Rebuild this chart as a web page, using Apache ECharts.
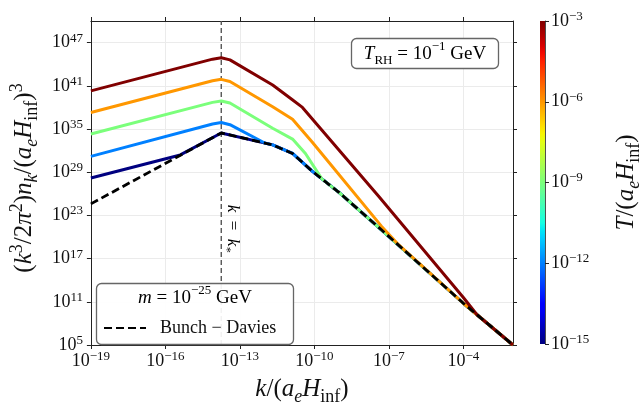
<!DOCTYPE html>
<html><head><meta charset="utf-8">
<script src="https://cdn.jsdelivr.net/npm/echarts@6/dist/echarts.min.js"></script>
<style>html,body{margin:0;padding:0;background:#fff}#c{width:644px;height:411px}</style>
</head><body><div id="c"></div>
<script>
// ---------------- data ----------------
const kTicks = [1e-19, 1e-16, 1e-13, 1e-10, 1e-7, 1e-4];
const yTicks = [1e5, 1e11, 1e17, 1e23, 1e29, 1e35, 1e41, 1e47];
const kRange = [1e-19, 1e-2];
const yRange = [1e5, 1e50];
const cbarExpRange = [-15, -3];          // colorbar: exponent of T/(a_e H_inf)
const kStar = 1.78e-14;
const kStarLabelY = 1.5e21;

// Bunch-Davies spectrum [k, value]
const bunchDavies = [[1e-19,4.0e24],[1.78e-14,2.8e34],[2.09e-12,6.3e32],[1.32e-11,4.0e31],[8.13e-11,1.41e29],[9.77e-10,1.58e26],[5.01e-8,1.0e21],[1e-4,6.3e10],[1e-2,1.0e5]];
// curves for each temperature, until they merge with Bunch-Davies
const temps = [1e-15, 1e-12, 1e-9, 1e-6, 1e-3];
const curveT15 = [[1e-19,1.58e28],[3.98e-16,2.5e31]];
const curveT12 = [[1e-19,1.58e31],[7.94e-15,5.0e35],[1.78e-14,7.9e35],[3.98e-14,3.98e35],[1e-12,1.12e33]];
const curveT9  = [[1e-19,2.0e34],[7.94e-15,5.0e38],[1.78e-14,7.9e38],[3.98e-14,3.98e38],[2.09e-12,1.26e35],[1.32e-11,3.98e33],[4.37e-11,3.98e31],[2.0e-10,1.2e28]];
const curveT6  = [[1e-19,2.0e37],[7.94e-15,5.0e41],[1.78e-14,7.9e41],[3.98e-14,3.98e41],[2.09e-12,1.26e38],[1.32e-11,2.24e36],[8.13e-11,1.58e33],[5.01e-8,3.2e21],[2.51e-7,7.9e18]];
const curveT3  = [[1e-19,2.0e40],[7.94e-15,5.0e44],[1.78e-14,7.9e44],[3.98e-14,3.98e44],[2.09e-12,1.26e41],[1.26e-11,1.26e39],[3.31e-11,1.0e38],[3.8e-8,5.0e25],[1e-4,4.0e11],[3.55e-4,1.58e9]];
const curves = [curveT15, curveT12, curveT9, curveT6, curveT3];

// ---------------- helpers ----------------
const F = '"Liberation Serif", "DejaVu Serif", serif';
const INK = '#111';
function interp(pts, t){
  for (let i = 1; i < pts.length; i++) {
    if (t <= pts[i][0]) { const [x0,y0] = pts[i-1], [x1,y1] = pts[i]; return y0 + (y1-y0)*(t-x0)/(x1-x0); }
  }
  return pts[pts.length-1][1];
}
const JR = [[0,0],[0.35,0],[0.66,1],[0.89,1],[1,0.5]];
const JG = [[0,0],[0.125,0],[0.375,1],[0.64,1],[0.91,0],[1,0]];
const JB = [[0,0.5],[0.11,1],[0.34,1],[0.65,0],[1,0]];
function jet(t){
  t = Math.max(0, Math.min(1, t));
  return 'rgb(' + Math.round(255*interp(JR,t)) + ',' + Math.round(255*interp(JG,t)) + ',' + Math.round(255*interp(JB,t)) + ')';
}
const tNorm = T => (Math.log10(T) - cbarExpRange[0]) / (cbarExpRange[1] - cbarExpRange[0]);
function withTail(own){
  const lastK = own[own.length-1][0];
  return own.concat(bunchDavies.filter(p => p[0] > lastK * 1.001));
}
const tickRich = {
  b: {fontFamily: F, fontSize: 18, lineHeight: 22, color: INK},
  s: {fontFamily: F, fontSize: 13, lineHeight: 13, verticalAlign: 'top', color: INK}
};
function pow10Label(e){ return '{b|10}{s|' + (e < 0 ? '\u2212' + (-e) : e) + '}'; }
const logFmt = v => pow10Label(Math.round(Math.log10(v)));
function mathRich(size, color){
  const s = Math.round(size * 0.7);
  return {
    n:  {fontFamily: F, fontSize: size, lineHeight: size + 8, color: color},
    i:  {fontFamily: F, fontSize: size, fontStyle: 'italic', lineHeight: size + 8, color: color},
    sp: {fontFamily: F, fontSize: s, lineHeight: s, verticalAlign: 'top', color: color},
    sb: {fontFamily: F, fontSize: s, lineHeight: s, verticalAlign: 'bottom', fontStyle: 'italic', color: color},
    sr: {fontFamily: F, fontSize: s, lineHeight: s, verticalAlign: 'bottom', color: color}
  };
}

// ---------------- series ----------------
const series = [];
curves.forEach((c, idx) => {
  series.push({
    type: 'line', name: 'T' + idx, xAxisIndex: 0, yAxisIndex: 0,
    data: withTail(c), showSymbol: false, symbol: 'none', smooth: false,
    lineStyle: {color: jet(tNorm(temps[idx])), width: 3}, itemStyle: {color: jet(tNorm(temps[idx]))},
    silent: true, z: 2
  });
});
// vertical k = k_* line
series.push({
  type: 'line', name: 'kstar', xAxisIndex: 0, yAxisIndex: 0,
  data: [[kStar, yRange[0]], [kStar, yRange[1]]], showSymbol: false, symbol: 'none',
  lineStyle: {color: '#555', width: 1.4, type: [5, 3]}, silent: true, z: 1
});
series.push({
  type: 'line', name: 'Bunch \u2212 Davies', xAxisIndex: 0, yAxisIndex: 0,
  data: bunchDavies, showSymbol: false, symbol: 'none',
  lineStyle: {color: '#000', width: 2.8, type: [8, 4]}, itemStyle: {color: '#000'},
  silent: true, z: 3
});
// colorbar
const cbStops = [];
for (let i = 0; i <= 40; i++) { const o = i / 40; cbStops.push({offset: o, color: jet(1 - o)}); }
series.push({
  type: 'bar', xAxisIndex: 2, yAxisIndex: 2, data: [cbarExpRange[1] - cbarExpRange[0]],
  barWidth: '100%', silent: true,
  itemStyle: {color: new echarts.graphic.LinearGradient(0, 0, 0, 1, cbStops)}
});

const mainX = {
  type: 'log', gridIndex: 0, min: kRange[0], max: kRange[1],
  axisLine: {show: true, onZero: false, lineStyle: {color: '#222', width: 1}},
  axisTick: {show: true, customValues: kTicks, length: 4, lineStyle: {color: '#222', width: 1}},
  minorTick: {show: false}, minorSplitLine: {show: false},
  splitLine: {show: true, lineStyle: {color: '#ebebeb', width: 1}}
};
const mainY = {
  type: 'log', gridIndex: 0, min: yRange[0], max: yRange[1],
  axisLine: {show: true, onZero: false, lineStyle: {color: '#222', width: 1}},
  axisTick: {show: true, customValues: yTicks, length: 4, lineStyle: {color: '#222', width: 1}},
  minorTick: {show: false}, minorSplitLine: {show: false},
  splitLine: {show: true, lineStyle: {color: '#ebebeb', width: 1}}
};

const option = {
  animation: false,
  backgroundColor: '#fff',
  grid: [
    {left: 86, top: 21, width: 427, height: 332},
    {left: 540, top: 21, width: 19, height: 323}
  ],
  xAxis: [
    Object.assign({}, mainX, {
      position: 'bottom',
      axisLabel: {show: true, customValues: kTicks, formatter: logFmt, rich: tickRich, margin: 5},
      name: '{i|k}{n|/(}{i|a}{sb|e}{i|H}{sr|inf}{n|)}',
      nameLocation: 'middle', nameGap: 28,
      nameTextStyle: {rich: mathRich(25, INK)}
    }),
    Object.assign({}, mainX, {position: 'top', axisLabel: {show: false}, splitLine: {show: false}}),
    {type: 'category', gridIndex: 1, data: ['cb'], show: false}
  ],
  yAxis: [
    Object.assign({}, mainY, {
      position: 'left',
      axisLabel: {show: true, customValues: yTicks, formatter: logFmt, rich: tickRich, margin: 8},
      name: '{n|(}{i|k}{sp|3}{n|/2}{i|\u03c0}{sp|2}{n|)}{i|n}{sb|k}{n|/(}{i|a}{sb|e}{i|H}{sr|inf}{n|)}{sp|3}',
      nameLocation: 'middle', nameRotate: 90, nameGap: 42,
      nameTextStyle: {rich: mathRich(25, INK), padding: [0, 0, 0, 10]}
    }),
    Object.assign({}, mainY, {position: 'right', axisLabel: {show: false}, splitLine: {show: false}}),
    {
      type: 'value', gridIndex: 1, position: 'right', min: 0, max: cbarExpRange[1] - cbarExpRange[0], interval: 3,
      axisLine: {show: true, lineStyle: {color: '#222', width: 0.8}},
      axisTick: {show: true, length: 4, lineStyle: {color: '#222'}},
      splitLine: {show: false},
      axisLabel: {formatter: v => pow10Label(v + cbarExpRange[0]), rich: tickRich, margin: 6},
      name: '{i|T}{n|/(}{i|a}{sb|e}{i|H}{sr|inf}{n|)}',
      nameLocation: 'middle', nameRotate: 90, nameGap: 65,
      nameTextStyle: {rich: mathRich(25, INK)}
    }
  ],
  legend: {
    data: ['Bunch \u2212 Davies'], left: 98, top: 314, selectedMode: false,
    itemWidth: 42, itemHeight: 14, padding: 5,
    itemStyle: {opacity: 0},
    textStyle: {fontFamily: F, fontSize: 18, color: INK, padding: [0, 0, 0, 9]},
    z: 20
  },
  series: series
};

const chart = echarts.init(document.getElementById('c'), null, {renderer: 'canvas'});
chart.setOption(option);

const kp = chart.convertToPixel({xAxisIndex: 0, yAxisIndex: 0}, [kStar, kStarLabelY]);
chart.setOption({
  graphic: [
    {type: 'rect', id: 'legendBox', z: 10, shape: {x: 96.5, y: 283.5, width: 197, height: 61, r: 5},
     style: {fill: 'rgba(255,255,255,0.92)', stroke: '#666', lineWidth: 1.3}},
    {type: 'text', id: 'legendTitle', z: 21, x: 195, y: 298,
     style: {text: '{i|m}{n| = 10}{sp|\u221225}{n| GeV}', rich: mathRich(19, INK), align: 'center', verticalAlign: 'middle'}},
    {type: 'rect', id: 'trhBox', z: 10, shape: {x: 351.5, y: 38.5, width: 147, height: 30, r: 5},
     style: {fill: '#fff', stroke: '#666', lineWidth: 1.3}},
    {type: 'text', id: 'trhText', z: 21, x: 425, y: 54,
     style: {text: '{i|T}{sr|RH}{n| = 10}{sp|\u22121}{n| GeV}', rich: mathRich(19, INK), align: 'center', verticalAlign: 'middle'}},
    {type: 'text', id: 'kstarText', z: 5, x: kp[0] + 11, y: kp[1], rotation: -Math.PI / 2,
     style: {text: '{i|k}{n|  =  }{i|k}{sb|*}', rich: mathRich(17, '#888'), align: 'center', verticalAlign: 'middle'}}
  ]
});
</script>
</body></html>
